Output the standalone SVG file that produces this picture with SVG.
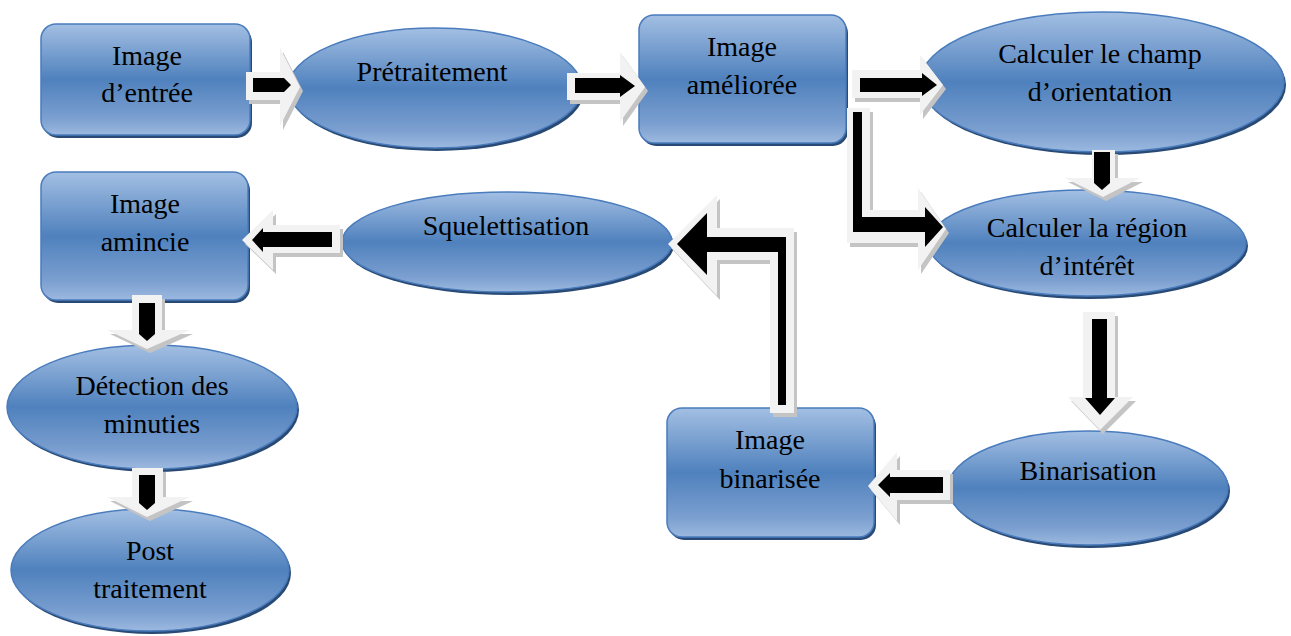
<svg xmlns="http://www.w3.org/2000/svg" width="1291" height="636" viewBox="0 0 1291 636">
  <defs>
    <linearGradient id="blueFill" x1="0" y1="0" x2="0" y2="1">
      <stop offset="0" stop-color="#a3bfe3"/>
      <stop offset="0.5" stop-color="#4f81bd"/>
      <stop offset="0.85" stop-color="#7b9fd0"/>
      <stop offset="1" stop-color="#9cb9df"/>
    </linearGradient>
    <style>
      .node { fill: url(#blueFill); stroke: #4a7cbd; stroke-width: 1.5; }
      .rim { fill: #284a74; }
      .label { font-family: "Liberation Serif", "DejaVu Serif", serif; font-size: 28px; fill: #000; text-anchor: middle; }
      .arrow-shadow { fill: #c4c4c4; }
      .arrow-body { fill: #f2f2f2; }
      .arrow-core { fill: #000; }
    </style>
  </defs>

  <rect width="1291" height="636" fill="#ffffff"/>

  <!-- process nodes -->
  <g id="image-entree">
    <rect class="rim" x="43" y="27" width="209" height="111" rx="15"/>
    <rect class="node" x="41" y="24" width="209" height="111" rx="15"/>
    <text class="label" x="147" y="65">Image</text>
    <text class="label" x="147" y="102">d’entrée</text>
  </g>

  <g id="pretraitement">
    <ellipse class="rim" cx="437" cy="91" rx="147" ry="60"/>
    <ellipse class="node" cx="435" cy="88" rx="147" ry="60"/>
    <text class="label" x="432" y="81">Prétraitement</text>
  </g>

  <g id="image-amelioree">
    <rect class="rim" x="641" y="18" width="207" height="128" rx="15"/>
    <rect class="node" x="639" y="15" width="207" height="128" rx="15"/>
    <text class="label" x="742" y="56">Image</text>
    <text class="label" x="742" y="94">améliorée</text>
  </g>

  <g id="champ-orientation">
    <ellipse class="rim" cx="1104" cy="85" rx="182" ry="70"/>
    <ellipse class="node" cx="1102" cy="82" rx="182" ry="70"/>
    <text class="label" x="1100" y="63">Calculer le champ</text>
    <text class="label" x="1100" y="101">d’orientation</text>
  </g>

  <g id="region-interet">
    <ellipse class="rim" cx="1089" cy="246" rx="159" ry="53"/>
    <ellipse class="node" cx="1087" cy="243" rx="159" ry="53"/>
    <text class="label" x="1087" y="237">Calculer la région</text>
    <text class="label" x="1087" y="275">d’intérêt</text>
  </g>

  <g id="binarisation">
    <ellipse class="rim" cx="1090" cy="491" rx="140" ry="57"/>
    <ellipse class="node" cx="1088" cy="488" rx="140" ry="57"/>
    <text class="label" x="1088" y="480">Binarisation</text>
  </g>

  <g id="image-binarisee">
    <rect class="rim" x="669" y="411" width="207" height="129" rx="15"/>
    <rect class="node" x="667" y="408" width="207" height="129" rx="15"/>
    <text class="label" x="770" y="449">Image</text>
    <text class="label" x="770" y="488">binarisée</text>
  </g>

  <g id="squelettisation">
    <ellipse class="rim" cx="509" cy="245" rx="165" ry="50"/>
    <ellipse class="node" cx="507" cy="242" rx="165" ry="50"/>
    <text class="label" x="506" y="235">Squelettisation</text>
  </g>

  <g id="image-amincie">
    <rect class="rim" x="43" y="175" width="207" height="128" rx="15"/>
    <rect class="node" x="41" y="172" width="207" height="128" rx="15"/>
    <text class="label" x="145" y="213">Image</text>
    <text class="label" x="145" y="251">amincie</text>
  </g>

  <g id="detection-minuties">
    <ellipse class="rim" cx="154" cy="410" rx="145" ry="62"/>
    <ellipse class="node" cx="152" cy="407" rx="145" ry="62"/>
    <text class="label" x="152" y="395">Détection des</text>
    <text class="label" x="152" y="433">minuties</text>
  </g>

  <g id="post-traitement">
    <ellipse class="rim" cx="152" cy="573" rx="139" ry="61"/>
    <ellipse class="node" cx="150" cy="570" rx="139" ry="61"/>
    <text class="label" x="150" y="560">Post</text>
    <text class="label" x="150" y="598">traitement</text>
  </g>

  <!-- block-arrow connectors: shadow, light body, black core -->
  <g id="connectors">
    <g id="entree-to-pretraitement">
      <polygon class="arrow-shadow" transform="translate(3,4)" points="246,72 280,72 280,48 300,87 280,126 280,100 246,100"/>
      <polygon class="arrow-body" points="246,72 280,72 280,48 300,87 280,126 280,100 246,100"/>
      <polygon class="arrow-core" points="253,78 284,78 291,85 284,92 253,92"/>
    </g>
    <g id="pretraitement-to-amelioree">
      <polygon class="arrow-shadow" transform="translate(3,4)" points="567,73 620,73 620,52 645,87 620,122 620,100 567,100"/>
      <polygon class="arrow-body" points="567,73 620,73 620,52 645,87 620,122 620,100 567,100"/>
      <polygon class="arrow-core" points="575,78 620,78 620,75 635,86 620,97 620,93 575,93"/>
    </g>
    <g id="amelioree-to-champ">
      <polygon class="arrow-shadow" transform="translate(3,4)" points="852,70 920,70 920,55 943,85 920,115 920,98 852,98"/>
      <polygon class="arrow-body" points="852,70 920,70 920,55 943,85 920,115 920,98 852,98"/>
      <polygon class="arrow-core" points="860,78 922,78 922,73 937,85 922,96 922,92 860,92"/>
    </g>
    <g id="amelioree-to-region">
      <polygon class="arrow-shadow" transform="translate(3,4)" points="847,108 870,108 870,210 918,210 918,188 946,229 918,270 918,243 847,243"/>
      <polygon class="arrow-body" points="847,108 870,108 870,210 918,210 918,188 946,229 918,270 918,243 847,243"/>
      <polygon class="arrow-core" points="853,112 862,112 862,217 925,217 925,207 943,227 925,247 925,232 853,232"/>
    </g>
    <g id="champ-to-region">
      <polygon class="arrow-shadow" transform="translate(3,4)" points="1092,150 1115,150 1115,178 1140,178 1103,197 1065,178 1092,178"/>
      <polygon class="arrow-body" points="1092,150 1115,150 1115,178 1140,178 1103,197 1065,178 1092,178"/>
      <polygon class="arrow-core" points="1094,152 1110,152 1110,183 1102,190 1094,183"/>
    </g>
    <g id="region-to-binarisation">
      <polygon class="arrow-shadow" transform="translate(3,4)" points="1083,312 1115,312 1115,397 1133,397 1100,430 1068,397 1083,397"/>
      <polygon class="arrow-body" points="1083,312 1115,312 1115,397 1133,397 1100,430 1068,397 1083,397"/>
      <polygon class="arrow-core" points="1092,319 1107,319 1107,398 1115,398 1100,415 1085,398 1092,398"/>
    </g>
    <g id="binarisation-to-binarisee">
      <polygon class="arrow-shadow" transform="translate(3,4)" points="950,470 897,470 897,452 868,486 897,521 897,500 950,500"/>
      <polygon class="arrow-body" points="950,470 897,470 897,452 868,486 897,521 897,500 950,500"/>
      <polygon class="arrow-core" points="943,477 890,477 890,473 878,485 890,497 890,493 943,493"/>
    </g>
    <g id="binarisee-to-squelettisation">
      <polygon class="arrow-shadow" transform="translate(3,4)" points="770,413 770,260 717,260 717,296 668,244 717,195 717,228 794,228 794,413"/>
      <polygon class="arrow-body" points="770,413 770,260 717,260 717,296 668,244 717,195 717,228 794,228 794,413"/>
      <polygon class="arrow-core" points="786,405 778,405 778,252 707,252 707,275 677,244 707,213 707,237 786,237"/>
    </g>
    <g id="squelettisation-to-amincie">
      <polygon class="arrow-shadow" transform="translate(3,4)" points="340,225 273,225 273,210 242,240 273,270 273,253 340,253"/>
      <polygon class="arrow-body" points="340,225 273,225 273,210 242,240 273,270 273,253 340,253"/>
      <polygon class="arrow-core" points="332,232 263,232 263,228 252,240 263,252 263,247 332,247"/>
    </g>
    <g id="amincie-to-detection">
      <polygon class="arrow-shadow" transform="translate(3,4)" points="132,295 162,295 162,330 190,330 147,349 107,330 132,330"/>
      <polygon class="arrow-body" points="132,295 162,295 162,330 190,330 147,349 107,330 132,330"/>
      <polygon class="arrow-core" points="139,303 155,303 155,334 147,341 139,334"/>
    </g>
    <g id="detection-to-post">
      <polygon class="arrow-shadow" transform="translate(3,4)" points="132,468 163,468 163,497 190,497 147,517 107,497 132,497"/>
      <polygon class="arrow-body" points="132,468 163,468 163,497 190,497 147,517 107,497 132,497"/>
      <polygon class="arrow-core" points="139,475 155,475 155,503 147,510 139,503"/>
    </g>
  </g>
</svg>
